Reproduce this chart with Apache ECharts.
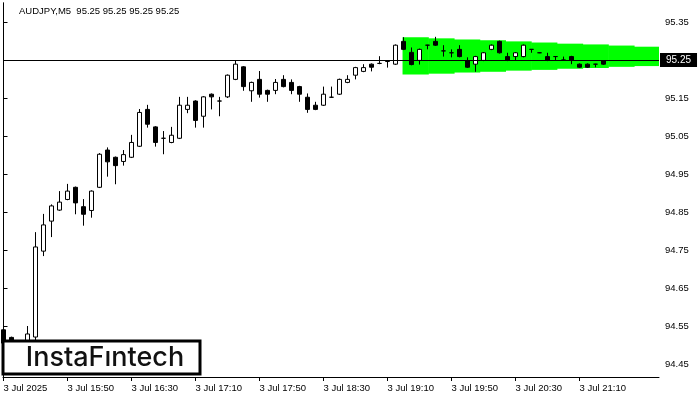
<!DOCTYPE html>
<html>
<head>
<meta charset="utf-8">
<script src="https://cdn.jsdelivr.net/npm/echarts@6/dist/echarts.min.js"></script>
<style>html,body{margin:0;padding:0;background:#fff}#c{width:700px;height:400px}</style>
</head>
<body>
<div id="c"></div>
<script>
// M5 candles, bar index 0 = 3 Jul 15:10
const opens = [94.540,94.520,94.500,94.508,94.521,94.747,94.826,94.855,94.883,94.915,94.864,94.854,94.915,95.013,94.994,94.983,94.994,95.023,95.120,95.074,95.044,95.033,95.044,95.120,95.142,95.102,95.160,95.142,95.153,95.199,95.232,95.169,95.199,95.170,95.170,95.199,95.191,95.180,95.152,95.131,95.131,95.152,95.160,95.191,95.210,95.220,95.239,95.241,95.246,95.239,95.299,95.270,95.249,95.289,95.299,95.274,95.269,95.278,95.248,95.239,95.249,95.278,95.299,95.259,95.259,95.259,95.278,95.269,95.259,95.259,95.250,95.259,95.239,95.239,95.239,95.248];
const closes = [94.505,94.508,94.490,94.529,94.758,94.816,94.866,94.876,94.905,94.874,94.844,94.905,95.002,94.982,94.972,95.001,95.033,95.112,95.081,95.033,95.044,95.052,95.131,95.131,95.091,95.153,95.153,95.142,95.210,95.239,95.180,95.191,95.160,95.160,95.191,95.180,95.170,95.160,95.120,95.120,95.160,95.152,95.199,95.199,95.230,95.230,95.231,95.241,95.246,95.289,95.278,95.238,95.278,95.289,95.289,95.274,95.269,95.259,95.231,95.259,95.269,95.289,95.269,95.249,95.269,95.289,95.278,95.269,95.249,95.259,95.250,95.249,95.231,95.231,95.239,95.239];
const lows = [94.480,94.490,94.480,94.500,94.510,94.734,94.784,94.853,94.881,94.844,94.814,94.835,94.913,94.943,94.923,94.972,94.992,95.021,95.072,95.022,95.002,95.031,95.042,95.110,95.072,95.072,95.120,95.102,95.150,95.197,95.169,95.140,95.151,95.140,95.160,95.178,95.160,95.140,95.111,95.118,95.129,95.150,95.158,95.189,95.199,95.218,95.220,95.239,95.230,95.237,95.276,95.236,95.238,95.278,95.287,95.259,95.257,95.257,95.229,95.219,95.247,95.276,95.267,95.247,95.249,95.257,95.269,95.268,95.247,95.249,95.249,95.239,95.229,95.229,95.231,95.237];
const highs = [94.545,94.522,94.505,94.550,94.797,94.845,94.870,94.905,94.924,94.917,94.884,94.907,95.005,95.020,94.996,95.013,95.053,95.121,95.132,95.076,95.063,95.074,95.153,95.153,95.144,95.155,95.162,95.153,95.212,95.248,95.234,95.193,95.221,95.172,95.200,95.210,95.199,95.182,95.162,95.140,95.180,95.180,95.201,95.210,95.232,95.239,95.241,95.260,95.248,95.291,95.310,95.283,95.280,95.290,95.311,95.289,95.278,95.289,95.257,95.261,95.271,95.291,95.301,95.269,95.271,95.291,95.279,95.270,95.269,95.260,95.259,95.261,95.241,95.241,95.240,95.250];

// pattern band (bar-index ranges and price bounds)
const bandFrom = [49.88, 53.09, 56.31, 59.52, 62.74, 65.95, 69.16, 72.38, 75.59, 78.81];
const bandTo   = [53.09, 56.31, 59.52, 62.74, 65.95, 69.16, 72.38, 75.59, 78.81, 82.03];
const bandTop    = [95.310, 95.307, 95.304, 95.302, 95.299, 95.296, 95.293, 95.291, 95.288, 95.285];
const bandBottom = [95.212, 95.214, 95.217, 95.219, 95.222, 95.224, 95.227, 95.229, 95.232, 95.234];

// axis ticks
const xTickIdx = [0, 8, 16, 24, 32, 40, 48, 56, 64, 72];
const xLabels = ['3 Jul 2025','3 Jul 15:50','3 Jul 16:30','3 Jul 17:10','3 Jul 17:50','3 Jul 18:30','3 Jul 19:10','3 Jul 19:50','3 Jul 20:30','3 Jul 21:10'];
const yTicks = [94.45, 94.55, 94.65, 94.75, 94.85, 94.95, 95.05, 95.15, 95.35];
const lastPrice = 95.25;
const titleText = 'AUDJPY,M5  95.25 95.25 95.25 95.25';
const logoText = 'InstaFıntech';

const candleData = opens.map((o, i) => [i, o, closes[i], lows[i], highs[i]]);
const bandData = bandFrom.map((f, i) => [f, bandTo[i], bandTop[i], bandBottom[i]]);

const FONT = 'Liberation Sans';
const chart = echarts.init(document.getElementById('c'), null, {renderer: 'canvas'});
chart.setOption({
  animation: false,
  backgroundColor: '#fff',
  title: {
    text: titleText, left: 19, top: 6, padding: 0,
    textStyle: {fontSize: 9.5, fontWeight: 'normal', color: '#000', fontFamily: FONT}
  },
  grid: {left: 3, top: 3, width: 656, height: 374, show: false},
  xAxis: {
    type: 'value', min: -0.0625, max: 81.9375,
    axisLine: {show: true, onZero: false, lineStyle: {color: '#000', width: 1}},
    splitLine: {show: false},
    axisTick: {show: true, customValues: xTickIdx, length: 4, lineStyle: {color: '#000'}},
    axisLabel: {
      customValues: xTickIdx,
      formatter: v => { const j = xTickIdx.indexOf(Math.round(v)); return j >= 0 ? xLabels[j] : ''; },
      align: 'left', fontSize: 9.5, color: '#000', margin: 6, fontFamily: FONT
    }
  },
  yAxis: [{
    type: 'value', position: 'right', min: 94.41579, max: 95.40, scale: true,
    axisLine: {show: true, lineStyle: {color: '#000', width: 1}},
    splitLine: {show: false},
    axisTick: {show: true, customValues: yTicks, length: 4, lineStyle: {color: '#000'}},
    axisLabel: {
      customValues: yTicks, formatter: v => v.toFixed(2),
      fontSize: 9.5, color: '#000', margin: 6, fontFamily: FONT
    }
  }, {
    type: 'value', position: 'left', min: 94.41579, max: 95.40, scale: true,
    axisLine: {show: true, lineStyle: {color: '#000', width: 1}},
    splitLine: {show: false}, axisTick: {show: false}, axisLabel: {show: false}
  }],
  series: [{
    type: 'custom',
    z: 1, clip: true, silent: true,
    data: bandData,
    encode: {x: [0, 1], y: [2, 3]},
    renderItem: (params, api) => {
      const p0 = api.coord([api.value(0), api.value(2)]);
      const p1 = api.coord([api.value(1), api.value(3)]);
      return {
        type: 'rect',
        shape: {x: p0[0], y: p0[1], width: p1[0] - p0[0] + 0.6, height: p1[1] - p0[1]},
        style: {fill: '#00ff00'}
      };
    }
  }, {
    type: 'candlestick',
    z: 3, silent: true,
    data: candleData,
    encode: {x: 0, y: [1, 2, 3, 4]},
    barWidth: 5,
    itemStyle: {color: '#fff', color0: '#000', borderColor: '#000', borderColor0: '#000', borderWidth: 1},
    markLine: {
      silent: true, symbol: ['none', 'none'],
      lineStyle: {color: '#000', width: 1, type: 'solid'},
      data: [{yAxis: lastPrice}],
      label: {
        show: true, position: 'end', distance: 1,
        formatter: lastPrice.toFixed(2),
        backgroundColor: '#000', color: '#fff',
        padding: [1, 6, 1, 6], lineHeight: 12, fontSize: 10, fontFamily: FONT
      }
    }
  }],
  graphic: [{
    type: 'rect', z: 100,
    shape: {x: 3, y: 341, width: 197, height: 33},
    style: {fill: '#fff', stroke: '#000', lineWidth: 3}
  }, {
    type: 'text', z: 101, x: 105, y: 358,
    style: {text: logoText, font: '500 27px Inter', fill: '#111', align: 'center', verticalAlign: 'middle'}
  }]
});
</script>
</body>
</html>
